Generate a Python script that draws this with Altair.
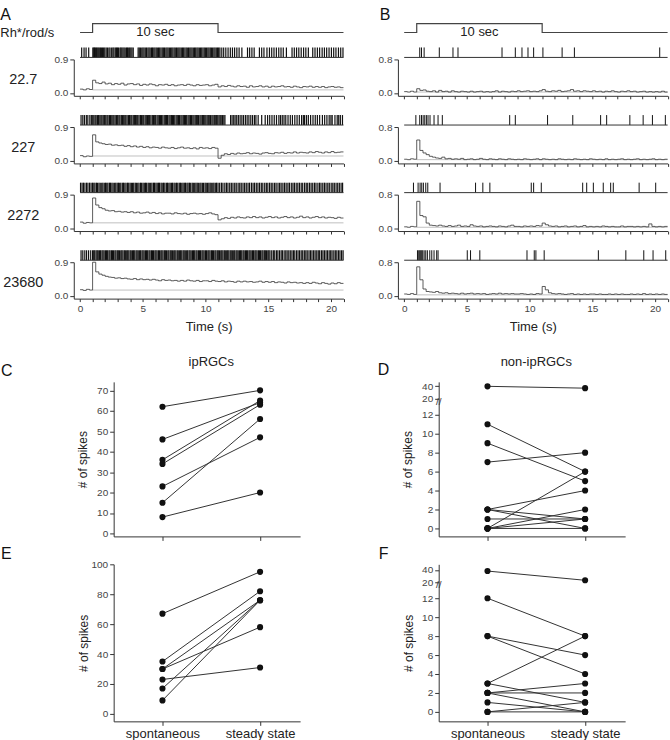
import altair as alt
import pandas as pd

FONT = "Liberation Sans"

# ------------------------------------------------------------------ data
intensities = ["22.7", "227", "2272", "23680"]
intensity_unit = "Rh*/rod/s"
stim_times = [0, 1, 11, 21]
stim_levels = [0, 1, 0, 0]
stim_label = "10 sec"
bin_width = 0.25
record_end = 21

psth_a_22 = [0.10,0.08,0.11,0.09, 0.34,0.27,0.25,0.29, 0.24,0.26,0.22,0.25, 0.23,0.26,0.21,0.24,
             0.25,0.22,0.24,0.20, 0.23,0.21,0.24,0.22, 0.19,0.22,0.21,0.23, 0.20,0.22,0.19,0.21,
             0.22,0.20,0.23,0.21, 0.19,0.22,0.20,0.21, 0.22,0.19,0.21,0.23, 0.16,0.19,0.17,0.20,
             0.18,0.16,0.19,0.17, 0.18,0.15,0.19,0.16, 0.17,0.19,0.16,0.18, 0.15,0.18,0.16,0.17,
             0.19,0.16,0.17,0.15, 0.18,0.16,0.14,0.17, 0.16,0.18,0.15,0.17, 0.15,0.17,0.14,0.16,
             0.17,0.15,0.16,0.14]
psth_a_227 = [0.13,0.10,0.12,0.11, 0.69,0.50,0.47,0.45, 0.43,0.44,0.41,0.42, 0.40,0.41,0.38,0.40,
              0.37,0.39,0.36,0.38, 0.35,0.37,0.34,0.36, 0.35,0.33,0.36,0.34, 0.33,0.35,0.32,0.34,
              0.36,0.33,0.34,0.32, 0.34,0.31,0.35,0.33, 0.34,0.32,0.35,0.33, 0.06,0.14,0.18,0.16,
              0.19,0.17,0.20,0.18, 0.19,0.21,0.18,0.20, 0.19,0.17,0.20,0.21, 0.19,0.18,0.21,0.20,
              0.22,0.19,0.21,0.20, 0.23,0.20,0.22,0.21, 0.20,0.23,0.21,0.24, 0.22,0.20,0.23,0.21,
              0.24,0.21,0.22,0.23]
psth_a_2272 = [0.16,0.13,0.15,0.14, 0.81,0.62,0.55,0.52, 0.48,0.46,0.47,0.44, 0.45,0.43,0.44,0.42,
               0.44,0.41,0.43,0.40, 0.41,0.43,0.40,0.42, 0.39,0.41,0.38,0.40, 0.40,0.38,0.41,0.39,
               0.38,0.40,0.37,0.39, 0.40,0.38,0.39,0.37, 0.39,0.41,0.38,0.36, 0.22,0.25,0.28,0.26,
               0.29,0.27,0.30,0.28, 0.27,0.30,0.28,0.31, 0.28,0.30,0.27,0.29, 0.31,0.28,0.30,0.27,
               0.29,0.31,0.28,0.30, 0.27,0.29,0.32,0.28, 0.30,0.27,0.29,0.31, 0.28,0.30,0.27,0.29,
               0.28,0.26,0.29,0.27]
psth_a_23680 = [0.16,0.14,0.17,0.15, 0.90,0.64,0.58,0.55, 0.52,0.50,0.49,0.47, 0.48,0.46,0.47,0.45,
                0.44,0.46,0.43,0.45, 0.43,0.44,0.42,0.44, 0.42,0.40,0.43,0.41, 0.42,0.40,0.41,0.39,
                0.41,0.39,0.42,0.40, 0.39,0.41,0.38,0.40, 0.40,0.38,0.41,0.39, 0.38,0.40,0.37,0.39,
                0.38,0.36,0.39,0.37, 0.39,0.37,0.38,0.36, 0.37,0.39,0.36,0.38, 0.36,0.38,0.35,0.37,
                0.36,0.34,0.37,0.35, 0.36,0.34,0.35,0.33, 0.35,0.33,0.36,0.34, 0.32,0.35,0.33,0.31,
                0.34,0.32,0.35,0.33]

psth_b_1 = [0.03,0.02,0.04,0.02, 0.10,0.06,0.07,0.04, 0.03,0.05,0.02,0.06, 0.03,0.04,0.02,0.05,
            0.03,0.02,0.04,0.03, 0.02,0.04,0.02,0.03, 0.04,0.02,0.03,0.02, 0.03,0.05,0.02,0.04,
            0.03,0.02,0.04,0.03, 0.05,0.03,0.04,0.05, 0.03,0.04,0.03,0.05, 0.08,0.04,0.03,0.05,
            0.04,0.06,0.03,0.04, 0.05,0.08,0.04,0.05, 0.03,0.05,0.04,0.03, 0.05,0.03,0.04,0.02,
            0.04,0.03,0.05,0.03, 0.02,0.04,0.03,0.05, 0.03,0.04,0.02,0.03, 0.04,0.02,0.03,0.02,
            0.03,0.02,0.04,0.02]
psth_b_2 = [0.03,0.02,0.04,0.03, 0.49,0.24,0.18,0.14, 0.10,0.08,0.06,0.05, 0.08,0.04,0.05,0.03,
            0.04,0.03,0.05,0.02, 0.03,0.04,0.02,0.03, 0.05,0.03,0.02,0.04, 0.03,0.02,0.04,0.03,
            0.02,0.04,0.03,0.02, 0.03,0.02,0.04,0.03, 0.02,0.03,0.04,0.02, 0.04,0.03,0.02,0.03,
            0.02,0.04,0.03,0.02, 0.03,0.02,0.04,0.03, 0.02,0.03,0.02,0.04, 0.03,0.02,0.03,0.02,
            0.04,0.02,0.03,0.02, 0.03,0.04,0.02,0.03, 0.02,0.03,0.04,0.02, 0.03,0.02,0.03,0.04,
            0.02,0.03,0.02,0.03]
psth_b_3 = [0.03,0.02,0.04,0.03, 0.64,0.30,0.27,0.12, 0.07,0.06,0.05,0.07, 0.05,0.04,0.06,0.04,
            0.05,0.07,0.04,0.05, 0.04,0.08,0.05,0.04, 0.05,0.03,0.04,0.05, 0.04,0.03,0.05,0.04,
            0.03,0.05,0.07,0.04, 0.04,0.03,0.05,0.04, 0.05,0.04,0.06,0.05, 0.12,0.08,0.05,0.04,
            0.05,0.03,0.04,0.05, 0.03,0.04,0.05,0.03, 0.04,0.06,0.03,0.04, 0.03,0.04,0.03,0.05,
            0.04,0.03,0.04,0.03, 0.03,0.05,0.03,0.04, 0.04,0.03,0.04,0.03, 0.04,0.03,0.10,0.04,
            0.03,0.04,0.03,0.04]
psth_b_4 = [0.04,0.03,0.05,0.03, 0.69,0.38,0.16,0.10, 0.09,0.08,0.10,0.07, 0.06,0.07,0.05,0.06,
            0.05,0.04,0.06,0.04, 0.05,0.06,0.04,0.05, 0.04,0.05,0.03,0.04, 0.05,0.04,0.06,0.04,
            0.05,0.04,0.05,0.04, 0.04,0.05,0.04,0.03, 0.04,0.03,0.05,0.04, 0.22,0.14,0.07,0.05,
            0.04,0.05,0.04,0.03, 0.04,0.05,0.03,0.04, 0.03,0.04,0.03,0.04, 0.04,0.03,0.04,0.03,
            0.03,0.04,0.03,0.04, 0.03,0.04,0.03,0.03, 0.04,0.03,0.04,0.03, 0.05,0.03,0.04,0.03,
            0.04,0.03,0.04,0.03]

baseline_a = [0.08, 0.12, 0.14, 0.15]
baseline_b = [0.02, 0.02, 0.02, 0.02]

# spike times in centiseconds
spikes_a_22 = [13,32,48,69,102,109,115,122,130,137,145,153,162,170,179,188,197,208,218,230,239,
               252,262,270,281,290,298,306,318,325,333,342,351,360,371,378,388,396,405,414,424,
               463,472,481,492,501,510,520,530,541,550,559,570,578,588,597,607,616,626,635,645,
               655,664,673,684,693,702,712,722,731,740,750,759,769,779,788,797,807,817,826,836,
               846,855,865,875,884,893,903,913,922,932,941,951,961,970,980,990,999,1009,1019,
               1028,1038,1047,1057,1067,1076,1086,1096,1105,1115,1130,1145,1162,1180,1198,1215,
               1232,1250,1268,1290,1335,1352,1370,1388,1430,1448,1466,1490,1510,1528,1546,1565,
               1584,1602,1620,1645,1690,1708,1726,1744,1763,1782,1800,1820,1855,1873,1892,1910,
               1930,1948,1966,1985,2004,2022,2040,2060,2078,2096]
spikes_a_227 = [8,22,35,50,62,78,90,101,110,120,128,139,148,158,167,175,185,196,205,215,223,234,
                243,253,262,270,280,291,300,310,318,329,338,348,357,365,375,386,395,405,413,424,
                433,443,452,460,470,481,490,500,508,519,528,538,547,555,565,576,585,595,603,614,
                623,633,642,650,660,671,680,690,698,709,718,728,737,745,755,766,775,785,793,804,
                813,823,832,840,850,861,870,880,888,899,908,918,927,935,945,956,965,975,983,994,
                1003,1013,1022,1030,1040,1051,1060,1070,1078,1089,1098,1108,1117,1125,1135,1146,
                1155,1200,1212,1225,1236,1249,1262,1276,1290,1303,1318,1332,1346,1361,1375,1390,
                1402,1420,1448,1476,1495,1512,1530,1548,1566,1585,1598,1612,1626,1640,1658,1676,
                1693,1712,1730,1748,1766,1780,1790,1805,1820,1838,1857,1875,1892,1910,1932,1950,
                1968,1986,2000,2010,2032,2050,2062,2075,2092]
spikes_a_2272 = [4,16,27,39,52,63,76,88,100,110,119,131,140,151,161,173,182,193,203,213,222,234,
                 243,254,264,276,285,296,306,316,325,337,346,357,367,379,388,399,409,419,428,440,
                 449,460,470,482,491,502,512,522,531,543,552,563,573,585,594,605,615,625,634,646,
                 655,666,676,688,697,708,718,728,737,749,758,769,779,791,800,811,821,831,840,852,
                 861,872,882,894,903,914,924,934,943,955,964,975,985,997,1006,1017,1027,1037,1046,
                 1058,1067,1078,1088,1100,1113,1127,1139,1154,1167,1179,1193,1206,1219,1233,1245,
                 1260,1273,1285,1299,1312,1325,1339,1351,1366,1379,1391,1405,1418,1431,1445,1457,
                 1472,1485,1497,1511,1524,1537,1551,1563,1578,1591,1603,1617,1630,1643,1657,1669,
                 1684,1697,1709,1723,1736,1749,1763,1775,1790,1803,1815,1829,1842,1855,1869,1881,
                 1896,1909,1921,1935,1948,1961,1975,1987,2002,2015,2027,2041,2054,2067,2081,2093]
spikes_a_23680 = [8,22,38,52,68,85,100,109,117,128,137,145,156,164,175,183,192,203,211,220,231,
                  239,250,258,267,278,286,297,305,314,325,333,342,353,361,372,380,389,400,408,419,
                  427,436,447,455,464,475,483,494,502,511,522,530,539,550,558,569,577,586,597,605,
                  614,625,633,644,652,661,672,680,689,700,708,719,727,736,747,755,764,775,783,794,
                  802,811,822,830,839,850,858,869,877,886,897,905,914,925,933,944,952,961,972,980,
                  989,1000,1008,1019,1027,1036,1047,1055,1064,1075,1083,1094,1102,1111,1122,1130,
                  1139,1150,1158,1169,1177,1186,1197,1205,1214,1225,1233,1244,1252,1261,1272,1280,
                  1289,1300,1308,1319,1327,1336,1347,1355,1364,1375,1383,1394,1402,1411,1422,1430,
                  1439,1450,1458,1469,1477,1486,1497,1505,1514,1528,1541,1552,1566,1577,1590,1603,
                  1613,1627,1640,1651,1664,1676,1689,1701,1712,1726,1738,1750,1763,1775,1788,1800,
                  1811,1825,1837,1849,1862,1874,1887,1899,1910,1924,1936,1948,1961,1973,1986,1998,
                  2009,2023,2035,2047,2060,2072,2085,2097]

spikes_b_1 = [124,138,159,280,389,429,780,886,939,987,1032,1106,1259,1357,2037]
spikes_b_2 = [93,124,138,151,164,177,190,206,238,270,304,841,886,1143,1344,1566,1614,1799,1905,
              1979,2082]
spikes_b_3 = [74,111,127,140,153,172,188,286,569,627,683,1013,1032,1093,1423,1455,1508,1587,1646,
              1667,1873,2005]
spikes_b_4 = [106,116,124,132,140,148,159,172,185,204,220,238,259,270,503,529,603,979,1037,1050,
              1116,1548,1767,1910,1984,2085]

conditions = ["spontaneous", "steady state"]
ip_light_spont = [62, 46, 36, 34, 23, 15, 8]
ip_light_steady = [70, 64, 65, 63, 47, 56, 20]
non_light_spont = [40, 11, 9, 7, 2, 2, 2, 1, 0, 0, 0, 0]
non_light_steady = [37, 6, 5, 8, 4, 1, 0, 1, 6, 2, 1, 0]
ip_dark_spont = [67, 35, 30, 30, 23, 17, 9]
ip_dark_steady = [95, 82, 76, 58, 31, 76, 76]
non_dark_spont = [38, 12, 8, 8, 3, 3, 2, 2, 2, 1, 0, 0]
non_dark_steady = [23, 8, 6, 4, 8, 1, 3, 2, 0, 0, 1, 0]

break_low = 12          # last value on the linear part of the broken axis
upper_ticks = [20, 40]  # tick values above the break
upper_pos = [13.7, 15.0]
break_mark = 13.35

# ------------------------------------------------------------------ layout
ROW_W, ROW_H = 270.5, 36.5
XS = alt.Scale(domain=[-0.5, 21.0], nice=False, zero=False)
STIM_LOW_PX, STIM_HIGH_PX = -27, -36   # pixel rows of the stimulus trace above the plot
INK = "#333"


def px_to_val(px, dom):
    return dom[0] + (ROW_H - px) * (dom[1] - dom[0]) / ROW_H


def trace_row(psth, spikes, ydom, ytop, base, last, raster_w, label=None,
              head=False, letter=None, letter_x=0.0, unit_text=None):
    t = [i * bin_width for i in range(len(psth))] + [record_end]
    v = psth + [psth[-1]]
    ys = alt.Scale(domain=ydom, nice=False, zero=False)
    ax_kw = dict(values=list(range(0, 22)), tickSize=3, labelFontSize=10, labelPadding=2)
    if last:
        ax_kw.update(labelExpr="datum.value % 5 === 0 ? datum.label : ''", titleFontSize=13,
                     titleFontWeight="normal", titlePadding=7, titleColor="#222")
    else:
        ax_kw.update(labels=False)
    xaxis = alt.Axis(**ax_kw)
    xtitle = "Time (s)" if last else None
    yaxis = alt.Axis(values=[0, ytop], format=".1f", tickSize=4, labelPadding=2, labelFontSize=10)

    def X(field):
        return alt.X(field, scale=XS, axis=xaxis, title=xtitle)

    def Y(field):
        return alt.Y(field, scale=ys, axis=yaxis, title=None)

    layers = []
    layers.append(
        alt.Chart(pd.DataFrame({"t": [stim_times[1]], "t2": [record_end], "v": [base]}))
        .mark_rule(color="#b0b0b0", strokeWidth=0.8)
        .encode(x=X("t:Q"), x2="t2:Q", y=Y("v:Q"))
    )
    layers.append(
        alt.Chart(pd.DataFrame({"t": t, "v": v}))
        .mark_line(interpolate="step-after", color=INK, strokeWidth=0.8)
        .encode(x=X("t:Q"), y=Y("v:Q"))
    )
    layers.append(
        alt.Chart(pd.DataFrame({"t": [s / 100 for s in spikes]}))
        .mark_rule(color="#111", strokeWidth=raster_w)
        .encode(x=X("t:Q"), y=alt.value(-12), y2=alt.value(-2))
    )
    layers.append(
        alt.Chart(pd.DataFrame({"t": [stim_times[0]], "t2": [record_end]}))
        .mark_rule(color=INK, strokeWidth=1)
        .encode(x=X("t:Q"), x2="t2:Q", y=alt.value(-2))
    )
    if label is not None:
        layers.append(
            alt.Chart(pd.DataFrame({"label": [label]}))
            .mark_text(align="center", baseline="middle", fontSize=14.5, color="#222")
            .encode(x=alt.value(-50.7), y=alt.value(21), text="label:N")
        )
    if head:
        lo = px_to_val(STIM_LOW_PX, ydom)
        hi = px_to_val(STIM_HIGH_PX, ydom)
        sv = [hi if s else lo for s in stim_levels]
        layers.append(
            alt.Chart(pd.DataFrame({"t": stim_times, "v": sv}))
            .mark_line(interpolate="step-after", color="#444", strokeWidth=1.2)
            .encode(x=X("t:Q"), y=Y("v:Q"))
        )
        layers.append(
            alt.Chart(pd.DataFrame({"t": [(stim_times[1] + stim_times[2]) / 2],
                                    "label": [stim_label]}))
            .mark_text(align="center", baseline="middle", fontSize=13, color="#222")
            .encode(x=X("t:Q"), y=alt.value(STIM_LOW_PX), text="label:N")
        )
        layers.append(
            alt.Chart(pd.DataFrame({"label": [letter]}))
            .mark_text(align="left", baseline="top", fontSize=16, color="#111")
            .encode(x=alt.value(letter_x), y=alt.value(-52.5), text="label:N")
        )
        if unit_text:
            layers.append(
                alt.Chart(pd.DataFrame({"label": [unit_text]}))
                .mark_text(align="left", baseline="middle", fontSize=13, color="#222")
                .encode(x=alt.value(letter_x), y=alt.value(-26), text="label:N")
            )
    return alt.layer(*layers).properties(width=ROW_W, height=ROW_H)


a_psth = [psth_a_22, psth_a_227, psth_a_2272, psth_a_23680]
a_spk = [spikes_a_22, spikes_a_227, spikes_a_2272, spikes_a_23680]
b_psth = [psth_b_1, psth_b_2, psth_b_3, psth_b_4]
b_spk = [spikes_b_1, spikes_b_2, spikes_b_3, spikes_b_4]

top_cells = []
for i in range(4):
    a = trace_row(a_psth[i], a_spk[i], [-0.08, 0.9], 0.9, baseline_a[i], i == 3, 1.2,
                  label=intensities[i], head=(i == 0), letter="A", letter_x=-73.7,
                  unit_text=intensity_unit)
    b = trace_row(b_psth[i], b_spk[i], [-0.07, 0.8], 0.8, baseline_b[i], i == 3, 1.0,
                  head=(i == 0), letter="B", letter_x=-18.3)
    top_cells += [a, b]

top = alt.concat(*top_cells, columns=2, bounds="flush",
                 spacing={"row": 30.8, "column": 54.1})

PX = alt.Scale(domain=[-0.5, 1.41], nice=False, zero=False)
slope = (upper_pos[1] - upper_pos[0]) / (upper_ticks[1] - upper_ticks[0])


def pair_chart(spont, steady, ydom, height, yticks, broken, letter, letter_x, letter_y,
               title_txt, show_cats, title_pad):
    n = len(spont)
    df = pd.DataFrame({"cell": list(range(n)) * 2, "cond": [0] * n + [1] * n,
                       "n": spont + steady})
    ys = alt.Scale(domain=ydom, nice=False, zero=False)
    y_kw = dict(values=yticks, tickSize=4, labelPadding=2, labelFontSize=10, titleFontSize=12,
                titleFontWeight="normal", titlePadding=title_pad, titleColor="#222")
    if broken:
        expr = (f"datum.n <= {break_low} ? datum.n : "
                f"{upper_pos[0]} + (datum.n - {upper_ticks[0]}) * {slope}")
        mid_hi = (upper_pos[0] + upper_pos[1]) / 2
        mid_lo = (break_low + upper_pos[0]) / 2
        y_kw["labelExpr"] = (f"datum.value > {mid_hi} ? '{upper_ticks[1]}' : "
                             f"datum.value > {mid_lo} ? '{upper_ticks[0]}' : datum.label")
    else:
        expr = "datum.n"
    x_kw = dict(values=[0, 1], tickSize=4, labels=show_cats, labelFontSize=13, labelPadding=2.5,
                labelColor="#222",
                labelExpr=f"datum.value == 0 ? '{conditions[0]}' : '{conditions[1]}'")
    xaxis = alt.Axis(**x_kw)
    yaxis = alt.Axis(**y_kw)

    def X(field):
        return alt.X(field, scale=PX, axis=xaxis, title=None)

    def Y(field):
        return alt.Y(field, scale=ys, axis=yaxis, title="# of spikes")

    base = alt.Chart(df).transform_calculate(yy=expr)
    layers = [
        base.mark_line(color=INK, strokeWidth=1).encode(x=X("cond:Q"), y=Y("yy:Q"),
                                                        detail="cell:N"),
        base.mark_circle(size=38, color="#111", opacity=1).encode(x=X("cond:Q"), y=Y("yy:Q")),
        alt.Chart(pd.DataFrame({"label": [letter]}))
        .mark_text(align="left", baseline="middle", fontSize=16, color="#111")
        .encode(x=alt.value(letter_x), y=alt.value(letter_y), text="label:N"),
    ]
    if title_txt:
        layers.append(
            alt.Chart(pd.DataFrame({"cond": [0.5], "label": [title_txt]}))
            .mark_text(align="center", baseline="middle", fontSize=13, color="#222")
            .encode(x=X("cond:Q"), y=alt.value(-20), text="label:N"))
    if broken:
        layers.append(
            alt.Chart(pd.DataFrame({"yy": [break_mark], "label": ["//"]}))
            .mark_text(align="center", baseline="middle", fontSize=10, color=INK)
            .encode(x=alt.value(0), y=Y("yy:Q"), text="label:N"))
    return alt.layer(*layers).properties(width=187, height=height)


dticks = [0, 2, 4, 6, 8, 10, 12] + upper_pos
C = pair_chart(ip_light_spont, ip_light_steady, [-1.46, 74.15], 155, list(range(0, 71, 10)),
               False, "C", -113, -11, "ipRGCs", False, 7)
D = pair_chart(non_light_spont, non_light_steady, [-0.84, 15.47], 155, dticks,
               True, "D", -61, -12, "non-ipRGCs", False, 7)
E = pair_chart(ip_dark_spont, ip_dark_steady, [-5, 100], 157.5, list(range(0, 101, 20)),
               False, "E", -113, -10, None, True, 1)
F = pair_chart(non_dark_spont, non_dark_steady, [-1.0, 15.58], 157.5, dticks,
               True, "F", -60, -10, None, True, 6.5)

bottom_grid = alt.concat(C, D, E, F, columns=2, bounds="flush",
                         spacing={"row": 28, "column": 139})

# empty spacer shifting the lower panels right of the trace panels
spacer = (alt.Chart(pd.DataFrame({"s": [0]})).mark_point(opacity=0)
          .encode(x=alt.value(0), y=alt.value(0)).properties(width=39.3, height=1))
bottom = alt.hconcat(spacer, bottom_grid, spacing=0, bounds="flush")

chart = (
    alt.vconcat(top, bottom, spacing=22.4)
    .properties(padding={"left": 0, "top": 5.5, "right": 0, "bottom": 0})
    .configure(font=FONT)
    .configure_view(stroke=None)
    .configure_axis(labelFont=FONT, titleFont=FONT, domainColor=INK, tickColor=INK,
                    labelColor="#444", grid=False, labelOverlap=False, domainWidth=1,
                    tickWidth=1)
    .configure_text(font=FONT)
)

chart.save("out.html", embed_options={"renderer": "svg", "actions": False})
